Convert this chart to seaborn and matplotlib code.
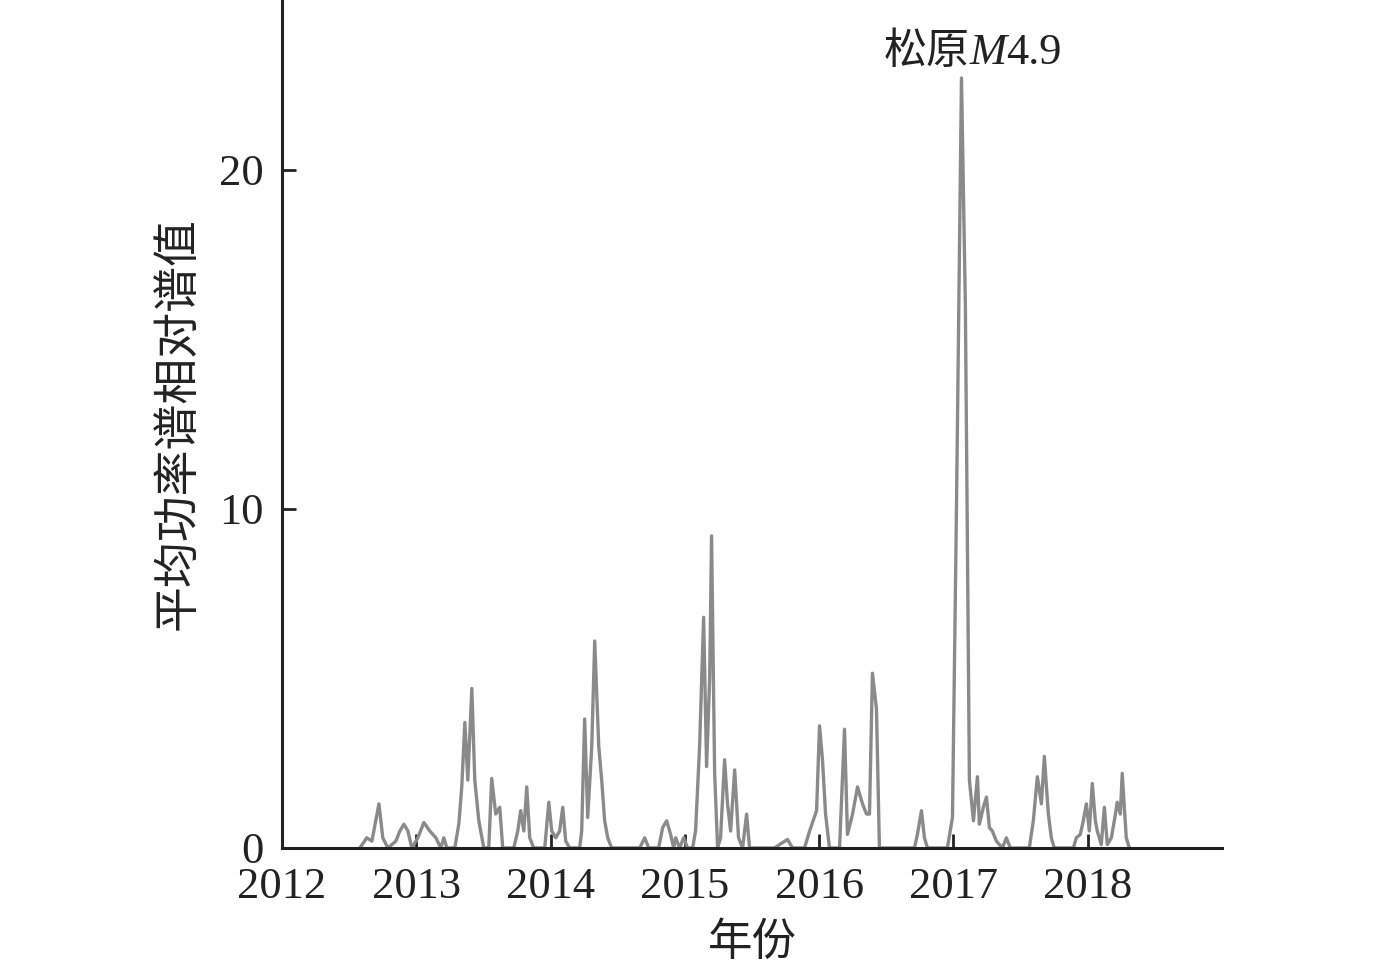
import matplotlib
matplotlib.use("Agg")
import matplotlib.pyplot as plt
import seaborn as sns
import pandas as pd
from matplotlib.offsetbox import TextArea, HPacker, AnnotationBbox

# time (decimal year) and relative spectral value
years = [
    2012.580, 2012.632, 2012.670, 2012.722, 2012.751, 2012.789, 2012.848, 2012.878,
    2012.908, 2012.938, 2012.967, 2013.012, 2013.057, 2013.101, 2013.146, 2013.183,
    2013.205, 2013.228, 2013.287, 2013.317, 2013.339, 2013.362, 2013.384, 2013.414,
    2013.436, 2013.466, 2013.503, 2013.540, 2013.562, 2013.592, 2013.622, 2013.644,
    2013.726, 2013.756, 2013.778, 2013.801, 2013.823, 2013.845, 2013.875, 2013.957,
    2013.987, 2014.009, 2014.039, 2014.068, 2014.091, 2014.113, 2014.143, 2014.217,
    2014.232, 2014.254, 2014.277, 2014.307, 2014.329, 2014.359, 2014.381, 2014.403,
    2014.426, 2014.455, 2014.664, 2014.701, 2014.731, 2014.805, 2014.835, 2014.865,
    2014.894, 2014.917, 2014.932, 2014.961, 2014.991, 2015.021, 2015.058, 2015.080,
    2015.110, 2015.140, 2015.162, 2015.185, 2015.199, 2015.222, 2015.244, 2015.266,
    2015.296, 2015.318, 2015.341, 2015.371, 2015.400, 2015.430, 2015.460, 2015.482,
    2015.668, 2015.705, 2015.765, 2015.802, 2015.891, 2015.929, 2015.951, 2015.981,
    2016.003, 2016.025, 2016.048, 2016.077, 2016.152, 2016.189, 2016.211, 2016.249,
    2016.286, 2016.323, 2016.353, 2016.375, 2016.397, 2016.427, 2016.449, 2016.710,
    2016.732, 2016.762, 2016.784, 2016.807, 2016.955, 2016.993, 2017.022, 2017.060,
    2017.089, 2017.119, 2017.149, 2017.179, 2017.193, 2017.223, 2017.246, 2017.268,
    2017.290, 2017.320, 2017.365, 2017.394, 2017.424, 2017.565, 2017.595, 2017.625,
    2017.655, 2017.677, 2017.707, 2017.729, 2017.751, 2017.893, 2017.915, 2017.945,
    2017.967, 2017.990, 2018.012, 2018.034, 2018.057, 2018.071, 2018.101, 2018.124,
    2018.146, 2018.176, 2018.198, 2018.220, 2018.243, 2018.257, 2018.287, 2018.310,
]
values = [
    0, 0.3, 0.2, 1.3, 0.3, 0, 0.2, 0.5,
    0.7, 0.5, 0, 0.3, 0.75, 0.5, 0.3, 0,
    0.3, 0, 0, 0.7, 1.8, 3.7, 2.0, 4.7,
    2.0, 0.8, 0, 0, 2.05, 1.0, 1.2, 0,
    0, 0.5, 1.1, 0.5, 1.8, 0.3, 0, 0,
    1.35, 0.5, 0.3, 0.5, 1.2, 0.2, 0, 0,
    0.5, 3.8, 0.9, 3.0, 6.1, 3.0, 2.0, 0.8,
    0.3, 0, 0, 0.3, 0, 0, 0.6, 0.8,
    0.4, 0, 0.3, 0, 0.3, 0, 0, 0.5,
    3.0, 6.8, 2.4, 5.0, 9.2, 2.2, 0, 0.3,
    2.6, 1.3, 0.5, 2.3, 0.3, 0, 1.0, 0,
    0, 0.1, 0.25, 0, 0, 0.5, 0.75, 1.1,
    3.6, 2.6, 1.0, 0, 0, 3.5, 0.4, 1.0,
    1.8, 1.3, 1.0, 1.0, 5.15, 4.1, 0, 0,
    0.4, 1.1, 0.3, 0, 0, 0.9, 9.8, 22.7,
    16.0, 2.0, 0.8, 2.1, 0.7, 1.2, 1.5, 0.6,
    0.5, 0.2, 0, 0.3, 0, 0, 0.8, 2.1,
    1.3, 2.7, 1.0, 0.3, 0, 0, 0.3, 0.4,
    0.8, 1.3, 0.5, 1.9, 0.8, 0.5, 0.1, 1.2,
    0.1, 0.3, 0.8, 1.35, 1.0, 2.2, 0.3, 0,
]
x_ticks = [2012, 2013, 2014, 2015, 2016, 2017, 2018]
y_ticks = [0, 10, 20]
peak_year, peak_value = 2017.060, 22.7

df = pd.DataFrame({"year": years, "value": values})

sns.set_style("ticks")
plt.rcParams["font.family"] = ["Liberation Serif", "Noto Sans CJK SC"]
plt.rcParams["axes.unicode_minus"] = False

fig = plt.figure(figsize=(13.78, 9.67), dpi=100)
ax = fig.add_axes([0.2046, 0.1231, 0.6822, 0.8769])

sns.lineplot(data=df, x="year", y="value", ax=ax, color="#8a8a8a", linewidth=2.4)

ax.set_xlim(2012, 2019)
ax.set_ylim(0, 25)
ax.set_xticks(x_ticks)
ax.set_yticks(y_ticks)
ax.tick_params(direction="in", length=10, width=2, labelsize=32, colors="#222222")
ax.tick_params(axis="x", pad=14)
ax.tick_params(axis="y", pad=13)
for side in ["top", "right"]:
    ax.spines[side].set_visible(False)
for side in ["left", "bottom"]:
    ax.spines[side].set_linewidth(2.2)
    ax.spines[side].set_color("#222222")

ax.set_xlabel("年份", fontsize=32, color="#222222")
ax.set_ylabel("平均功率谱相对谱值", fontsize=33, color="#222222")
ax.xaxis.set_label_coords(0.5, -0.088)
ax.yaxis.set_label_coords(-0.087, 0.5)

# label of the big peak
parts = [
    TextArea("松原", textprops=dict(fontsize=31, family=["Noto Sans CJK SC"], color="#222222")),
    TextArea("M", textprops=dict(fontsize=32, family="Liberation Serif", style="italic", color="#222222")),
    TextArea("4.9", textprops=dict(fontsize=32, family="Liberation Serif", color="#222222")),
]
pack = HPacker(children=parts, pad=0, sep=0, align="baseline")
ab = AnnotationBbox(pack, (peak_year, peak_value), xybox=(8, 3), xycoords="data",
                    boxcoords="offset points", box_alignment=(0.5, 0), frameon=False)
ax.add_artist(ab)

fig.savefig("out.png", dpi=100)
